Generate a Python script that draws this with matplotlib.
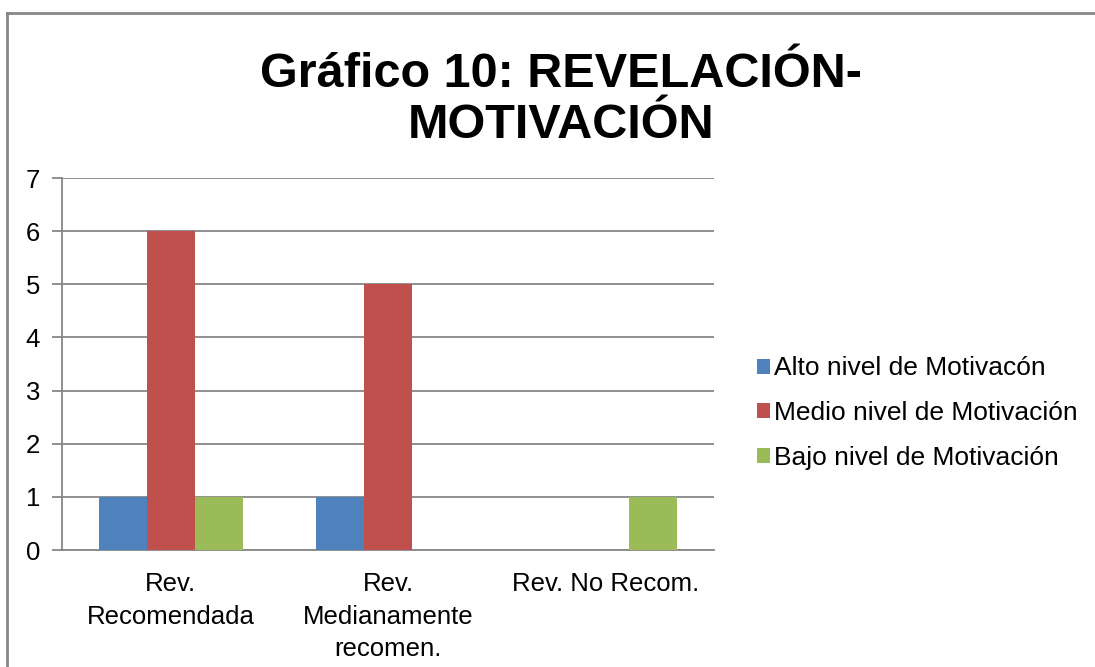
import numpy as np
import matplotlib
matplotlib.use('Agg')
import matplotlib.pyplot as plt
from matplotlib.lines import Line2D

categories = ['Rev.\nRecomendada', 'Rev.\nMedianamente\nrecomen.', 'Rev. No Recom.']
series_names = ['Alto nivel de Motivacón', 'Medio nivel de Motivación', 'Bajo nivel de Motivación']
alto = [1, 1, 0]
medio = [6, 5, 0]
bajo = [1, 0, 1]
colors = ['#4F81BD', '#C0504D', '#9BBB59']
title = 'Gráfico 10: REVELACIÓN-\nMOTIVACIÓN'

plt.rcParams['font.family'] = ['Liberation Sans', 'DejaVu Sans']
grey = '#878787'

fig = plt.figure(figsize=(10.95, 6.67), dpi=100)
ax = fig.add_axes([62/1095, 1 - 550/667, (714 - 62)/1095, (550 - 178)/667])

x = np.arange(len(categories))
w = 0.221
for i, (vals, name) in enumerate(zip([alto, medio, bajo], series_names)):
  ax.bar(x + (i - 1)*w, vals, w, color=colors[i], label=name, zorder=3)

ax.set_xlim(-0.5, len(categories) - 0.5)
ax.set_ylim(0, 7)
ax.set_yticks(range(0, 8))
ax.set_xticks(x)
ax.set_xticklabels(categories, fontsize=18.5, linespacing=1.45)
ax.tick_params(axis='x', length=0, pad=16)
ax.tick_params(axis='y', labelsize=18.5, length=7, color=grey, width=1.3, pad=14)
ax.grid(axis='y', color=grey, linewidth=1.3, zorder=0)
for s in ['top', 'right']:
  ax.spines[s].set_visible(False)
ax.spines['left'].set_color(grey)
ax.spines['bottom'].set_color(grey)
ax.spines['left'].set_linewidth(1.3)
ax.spines['bottom'].set_linewidth(1.3)
for lbl in ax.get_yticklabels():
  lbl.set_horizontalalignment('center')

fig.text(561/1095, 1 - 100/667, title, fontsize=35, fontweight='bold', ha='center', va='center', linespacing=1.15)

fig.legend(loc='center left', bbox_to_anchor=(757/1095, 1 - 413/667), frameon=False, fontsize=19,
           handlelength=0.5, handleheight=0.5, handletextpad=0.15, labelspacing=0.78, borderpad=0, borderaxespad=0)

# chart frame, cropped at right and bottom
fig.add_artist(Line2D([7/1095, 7/1095], [0, 1 - 13/667], transform=fig.transFigure, color=grey, linewidth=2))
fig.add_artist(Line2D([7/1095, 1], [1 - 13/667, 1 - 13/667], transform=fig.transFigure, color=grey, linewidth=2))

plt.savefig('out.png', dpi=100)
